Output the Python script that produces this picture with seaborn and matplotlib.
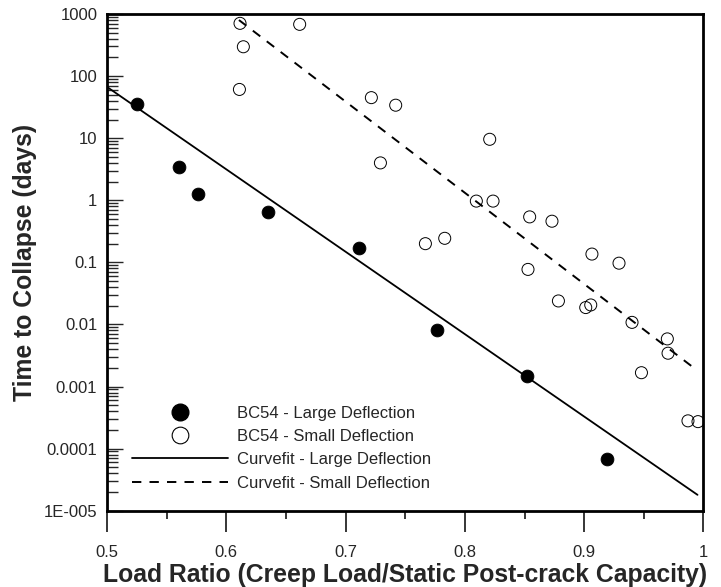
import numpy as np
import pandas as pd
import seaborn as sns
import matplotlib
matplotlib.use("Agg")
import matplotlib.pyplot as plt
from matplotlib.ticker import FixedLocator, FixedFormatter, LogLocator, NullFormatter, MultipleLocator
from matplotlib.lines import Line2D

# Measured creep-collapse tests (BC54)
large_ratio = [0.525, 0.560, 0.576, 0.635, 0.711, 0.777, 0.852, 0.919]
large_days = [35.2, 3.47, 1.25, 0.648, 0.169, 0.00824, 0.00147, 6.75e-5]

small_ratio = [0.6115, 0.6615, 0.6143, 0.611, 0.7216, 0.742, 0.8208, 0.7292,
               0.8096, 0.8236, 0.8543, 0.873, 0.7669, 0.7831, 0.9065, 0.9292,
               0.8529, 0.8784, 0.9013, 0.9055, 0.9401, 0.9697, 0.9703, 0.948,
               0.987, 0.9954]
small_days = [708, 682, 297, 61, 45, 34, 9.6, 4.0,
              0.97, 0.97, 0.54, 0.46, 0.20, 0.244, 0.136, 0.097,
              0.077, 0.0239, 0.0187, 0.0206, 0.0108, 0.00585, 0.00344, 0.00167,
              0.00028, 0.000272]

# Exponential curve fits (straight on log axis), given by their end points
fit_large_ratio = [0.5, 0.995]
fit_large_days = [67.0, 1.8e-5]
fit_small_ratio = [0.6106, 0.995]
fit_small_days = [800.0, 0.0018]

y_ticks = [1e-5, 1e-4, 1e-3, 1e-2, 1e-1, 1, 10, 100, 1000]
y_tick_labels = ["1E-005", "0.0001", "0.001", "0.01", "0.1", "1", "10", "100", "1000"]
x_ticks = [0.5, 0.6, 0.7, 0.8, 0.9, 1.0]
x_tick_labels = ["0.5", "0.6", "0.7", "0.8", "0.9", "1"]

labels = ["BC54 - Large Deflection", "BC54 - Small Deflection",
          "Curvefit - Large Deflection", "Curvefit - Small Deflection"]

sns.set_style("ticks")
plt.rcParams["font.family"] = ["Liberation Sans", "DejaVu Sans"]

fig = plt.figure(figsize=(7.21, 5.87), dpi=100)
ax = fig.add_axes([0.1484, 0.1300, 0.8273, 0.8461])

df_large = pd.DataFrame({"ratio": large_ratio, "days": large_days})
df_small = pd.DataFrame({"ratio": small_ratio, "days": small_days})
df_fl = pd.DataFrame({"ratio": fit_large_ratio, "days": fit_large_days})
df_fs = pd.DataFrame({"ratio": fit_small_ratio, "days": fit_small_days})

sns.lineplot(data=df_fl, x="ratio", y="days", ax=ax, color="black", lw=1.3,
             estimator=None, sort=False)
sns.lineplot(data=df_fs, x="ratio", y="days", ax=ax, color="black", lw=1.4,
             estimator=None, sort=False, linestyle=(0, (4.8, 4.2)))
sns.scatterplot(data=df_large, x="ratio", y="days", ax=ax, s=85, color="black",
                edgecolor="black", linewidth=0.6, zorder=3)
sns.scatterplot(data=df_small, x="ratio", y="days", ax=ax, s=75, facecolor="none",
                edgecolor="black", linewidth=0.7, zorder=3)

ax.set_yscale("log")
ax.set_xlim(0.5, 1.0)
ax.set_ylim(1e-5, 1000)

ax.yaxis.set_major_locator(FixedLocator(y_ticks))
ax.yaxis.set_major_formatter(FixedFormatter(y_tick_labels))
ax.yaxis.set_minor_locator(LogLocator(base=10, subs=np.arange(2, 10), numticks=20))
ax.yaxis.set_minor_formatter(NullFormatter())
ax.xaxis.set_major_locator(FixedLocator(x_ticks))
ax.xaxis.set_major_formatter(FixedFormatter(x_tick_labels))
ax.xaxis.set_minor_locator(MultipleLocator(0.05))

ax.tick_params(axis="y", which="major", direction="in", length=11.5, width=1.0,
               labelsize=12, pad=7, right=False)
ax.tick_params(axis="y", which="minor", direction="in", length=8, width=1.0, right=False)
ax.tick_params(axis="x", which="major", direction="out", length=15, width=1.3,
               labelsize=12, pad=10, top=False)
ax.tick_params(axis="x", which="minor", direction="out", length=6, width=1.3, top=False)

for side in ["left", "bottom", "top", "right"]:
    ax.spines[side].set_visible(True)
    ax.spines[side].set_linewidth(2.0)
    ax.spines[side].set_color("black")

ax.set_xlabel("Load Ratio (Creep Load/Static Post-crack Capacity)",
              fontsize=17.8, fontweight="bold", labelpad=2)
ax.set_ylabel("Time to Collapse (days)", fontsize=17.8, fontweight="bold", labelpad=5)

handles = [
    Line2D([], [], ls="none", marker="o", ms=12, mfc="black", mec="black"),
    Line2D([], [], ls="none", marker="o", ms=12, mfc="white", mec="black", mew=0.8),
    Line2D([], [], color="black", lw=1.3),
    Line2D([], [], color="black", lw=1.4, ls=(0, (4.8, 4.2))),
]
ax.legend(handles, labels, loc="lower left", bbox_to_anchor=(0.03, 0.027),
          frameon=False, fontsize=12, handlelength=5.8, handletextpad=0.55,
          labelspacing=0.5, borderaxespad=0)

fig.savefig("out.png", dpi=100)
